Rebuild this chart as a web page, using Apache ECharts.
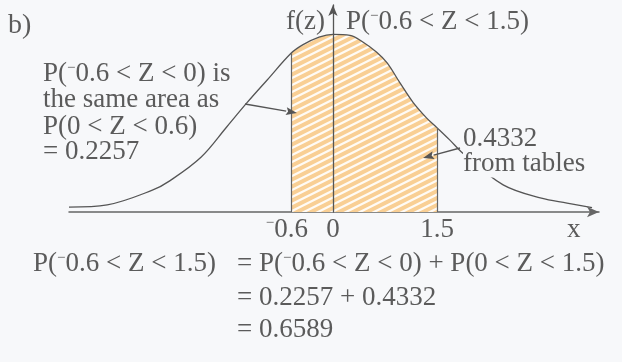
<!DOCTYPE html>
<html>
<head>
<meta charset="utf-8">
<script src="https://cdn.jsdelivr.net/npm/echarts@6/dist/echarts.min.js"></script>
<style>
  html, body { margin: 0; padding: 0; background: #f7f8fa; }
  #chart { width: 622px; height: 362px; }
</style>
</head>
<body>
<div id="chart"></div>
<script>
// Density curve f(z): sample positions and heights
const curveZ = [-3.8, -3.25, -2.6, -2.35, -1.9, -1.53, -1.24, -0.95, -0.6, -0.43, -0.2, 0, 0.245, 0.43, 0.63, 0.78, 0.965, 1.15, 1.35, 1.5, 1.68, 1.87, 2.45, 3.0, 3.37, 3.73];
const curveF = [0.011, 0.016, 0.049, 0.070, 0.123, 0.191, 0.245, 0.296, 0.357, 0.376, 0.393, 0.399, 0.397, 0.382, 0.359, 0.335, 0.290, 0.247, 0.211, 0.189, 0.162, 0.132, 0.061, 0.031, 0.020, 0.0097];

// Shaded interval  -0.6 < Z < 1.5
const lowerZ = -0.6;
const upperZ = 1.5;

// Values marked on the z axis
const tickValues = [-0.6, 0, 1.5];

// Probabilities
const pLeft = 0.2257;   // P(-0.6 < Z < 0)
const pRight = 0.4332;  // P(0 < Z < 1.5)
const pTotal = 0.6589;  // P(-0.6 < Z < 1.5)

// Negative numbers are written with a small raised minus sign
const fmt = v => (v < 0 ? '{m|\u2212}' + Math.abs(v) : String(v));

const BG = '#f7f8fa';
const INK = '#5b5b5b';
const FONT = '"Liberation Serif", "DejaVu Serif", serif';
const RICH = { m: { fontSize: 15, fontFamily: FONT, fill: INK, color: INK, verticalAlign: 'top' } };

// Orange scribble-like hatching for the shaded region
function hatchPattern() {
  const c = document.createElement('canvas');
  c.width = 28; c.height = 14;
  const g = c.getContext('2d');
  g.fillStyle = '#f9cf94';
  g.fillRect(0, 0, 28, 14);
  g.strokeStyle = 'rgba(255,255,255,0.9)';
  g.lineWidth = 2.3;
  for (let k = -2; k <= 5; k++) {
    const c0 = k * 7;
    g.beginPath();
    g.moveTo(-2, c0 + 1);
    g.lineTo(30, c0 - 15);
    g.stroke();
  }
  return c;
}

const curveData = curveZ.map((z, i) => [z, curveF[i]]);
const shadedData = curveData.filter(p => p[0] >= lowerZ && p[0] <= upperZ);
const fLower = curveF[curveZ.indexOf(lowerZ)];
const fUpper = curveF[curveZ.indexOf(upperZ)];

// Text placed by its baseline
function label(text, x, baseline, size, extra) {
  return {
    type: 'text',
    z: 100,
    style: Object.assign({
      text: text,
      x: x,
      y: baseline - 0.3 * size,
      fontSize: size,
      fontFamily: FONT,
      fill: INK,
      align: 'left',
      verticalAlign: 'middle',
      rich: RICH
    }, extra || {})
  };
}

function arrow(x1, y1, x2, y2) {
  const ang = Math.atan2(y2 - y1, x2 - x1);
  const L = 11, W = 4;
  const bx = x2 - L * Math.cos(ang), by = y2 - L * Math.sin(ang);
  const px = -Math.sin(ang) * W, py = Math.cos(ang) * W;
  return [
    { type: 'line', z: 101, shape: { x1: x1, y1: y1, x2: bx, y2: by },
      style: { stroke: '#555', lineWidth: 1.4 } },
    { type: 'polygon', z: 101,
      shape: { points: [[x2, y2], [bx + px, by + py], [bx + 2 * Math.cos(ang), by + 2 * Math.sin(ang)], [bx - px, by - py]] },
      style: { fill: '#555' } }
  ];
}

const chart = echarts.init(document.getElementById('chart'), null, { renderer: 'canvas' });

const TOP = 27, BOT = 27;
const eqX = 237;

chart.setOption({
  backgroundColor: BG,
  animation: false,
  grid: { left: 69, right: 23, top: 5, bottom: 150, containLabel: false, outerBoundsMode: 'none' },
  xAxis: {
    type: 'value',
    min: -3.8,
    max: 3.83,
    splitLine: { show: false },
    axisTick: { show: false },
    axisLine: {
      show: true,
      onZero: true,
      symbol: ['none', 'arrow'],
      symbolSize: [8, 12],
      lineStyle: { color: '#666', width: 1.5 }
    },
    axisLabel: {
      customValues: tickValues,
      // keep the digits centred under the mark; the raised minus hangs to the left
      formatter: v => (v < 0 ? fmt(v) + '{p|}' : fmt(v)),
      color: INK,
      fontSize: 27,
      fontFamily: FONT,
      margin: 4,
      rich: {
        m: { fontSize: 15, fontFamily: FONT, color: INK, verticalAlign: 'top' },
        p: { width: 9, fontSize: 15 }
      }
    }
  },
  yAxis: {
    type: 'value',
    min: 0,
    max: 0.465,
    z: 10,
    splitLine: { show: false },
    axisTick: { show: false },
    axisLabel: { show: false },
    axisLine: {
      show: true,
      onZero: true,
      symbol: ['none', 'arrow'],
      symbolSize: [7, 11],
      lineStyle: { color: '#555', width: 1.3 }
    }
  },
  series: [
    {
      type: 'line',
      data: shadedData,
      smooth: 0.35,
      showSymbol: false,
      silent: true,
      z: 2,
      lineStyle: { width: 0 },
      areaStyle: { color: { image: hatchPattern(), repeat: 'repeat' }, opacity: 1 }
    },
    {
      type: 'line',
      data: curveData,
      smooth: 0.35,
      showSymbol: false,
      silent: true,
      z: 3,
      lineStyle: { color: '#555', width: 1.3 },
      markLine: {
        silent: true,
        symbol: 'none',
        label: { show: false },
        lineStyle: { color: '#666', width: 1.2, type: 'solid' },
        data: [
          [{ coord: [lowerZ, 0] }, { coord: [lowerZ, fLower] }],
          [{ coord: [upperZ, 0] }, { coord: [upperZ, fUpper] }]
        ]
      }
    }
  ],
  graphic: [
    label('b)', 8, 34, 28),
    label('f(z)', 286, 30, TOP),
    label('P(' + fmt(lowerZ) + ' < Z < ' + upperZ + ')', 346, 30, TOP),
    label('P(' + fmt(lowerZ) + ' < Z < 0) is', 43, 82, TOP),
    label('the same area as', 43, 108, TOP),
    label('P(0 < Z < ' + Math.abs(lowerZ) + ')', 43, 135, TOP),
    label('= ' + pLeft.toFixed(4), 43, 160, TOP),
    label(pRight.toFixed(4) + '\u00A0\u00A0\u00A0\u00A0\u00A0', 463, 147, TOP, { backgroundColor: BG }),
    label('from tables', 463, 172, TOP, { backgroundColor: BG }),
    label('x', 567, 238, 27),
    label('P(' + fmt(lowerZ) + ' < Z < ' + upperZ + ')', 33, 272, BOT),
    label('= P(' + fmt(lowerZ) + ' < Z < 0) + P(0 < Z < ' + upperZ + ')', eqX, 272, BOT),
    label('= ' + pLeft.toFixed(4) + ' + ' + pRight.toFixed(4), eqX, 306, BOT),
    label('= ' + pTotal.toFixed(4), eqX, 338, BOT)
  ].concat(arrow(245, 104, 297, 113), arrow(460, 148, 423, 158))
});
</script>
</body>
</html>
